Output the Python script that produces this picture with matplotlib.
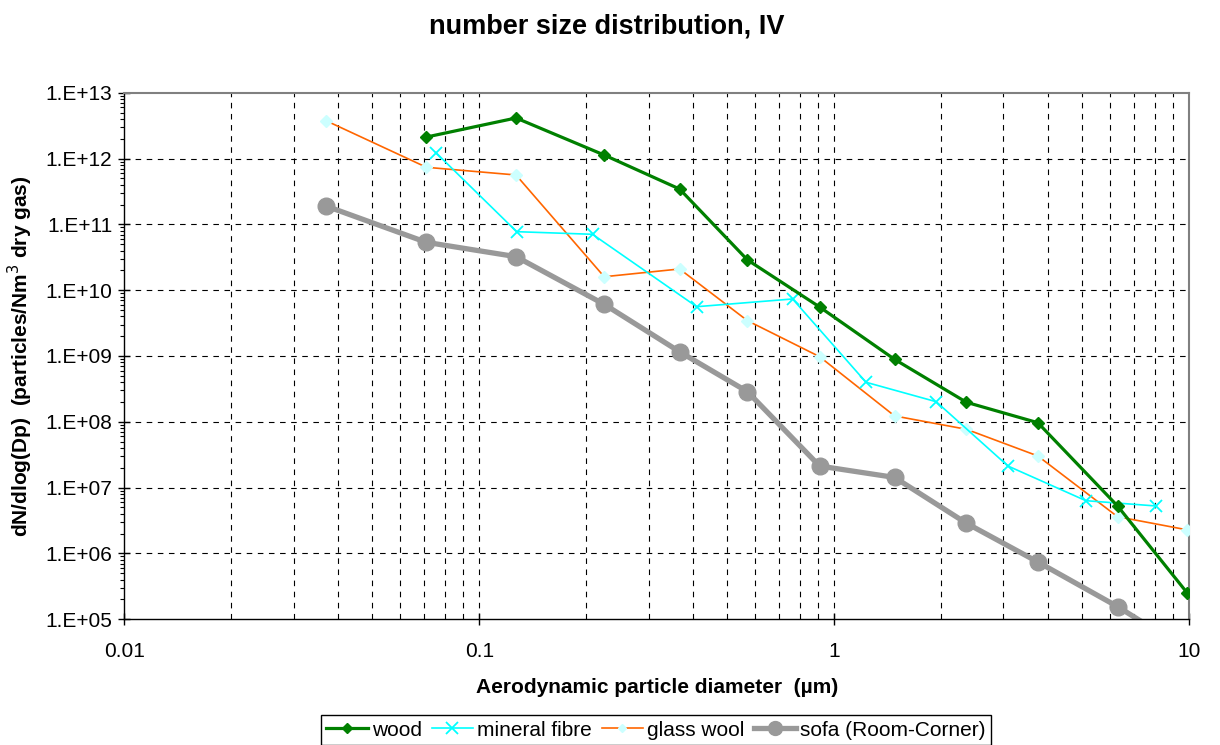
import math
import matplotlib
matplotlib.use("Agg")
import matplotlib.pyplot as plt
from matplotlib.ticker import LogLocator, FixedLocator, NullFormatter, FuncFormatter
from matplotlib.lines import Line2D

plt.rcParams['font.family'] = ['Liberation Sans', 'DejaVu Sans']

# Particle diameters (µm) of the impactor stages
dp = [0.037, 0.071, 0.127, 0.225, 0.367, 0.57, 0.91, 1.48, 2.36, 3.75, 6.29, 9.9]
dp_wood = [0.071, 0.127, 0.225, 0.367, 0.57, 0.91, 1.48, 2.36, 3.75, 6.29, 9.9]
dp_mineral = [0.0755, 0.1275, 0.2086, 0.41, 0.764, 1.23, 1.94, 3.09, 5.12, 8.06]

# dN/dlog(Dp), particles/Nm3 dry gas
wood = [2.12e12, 4.13e12, 1.13e12, 3.44e11, 2.88e10, 5.56e9, 8.9e8, 1.98e8, 9.7e7, 5.27e6, 2.49e5]
mineral_fibre = [1.23e12, 7.74e10, 7.06e10, 5.61e9, 7.35e9, 3.99e8, 2.02e8, 2.13e7, 6.34e6, 5.27e6]
glass_wool = [3.76e12, 7.36e11, 5.62e11, 1.6e10, 2.1e10, 3.44e9, 9.77e8, 1.23e8, 7.7e7, 3.03e7, 3.62e6, 2.28e6]
sofa = [1.9e11, 5.33e10, 3.23e10, 6.1e9, 1.16e9, 2.87e8, 2.13e7, 1.43e7, 2.88e6, 7.43e5, 1.56e5, 3.4e4]

labels = ["wood", "mineral fibre", "glass wool", "sofa (Room-Corner)"]
title = "number size distribution, IV"
xlabel = "Aerodynamic particle diameter  (µm)"
ylabel = "dN/dlog(Dp)  (particles/Nm$^3$ dry gas)"
xtick_labels = {0.01: '0.01', 0.1: '0.1', 1: '1', 10: '10'}

W, H = 1220, 745
fig = plt.figure(figsize=(W / 100, H / 100), dpi=100)
ax = fig.add_axes([124.3 / W, 1 - 619.3 / H, (1189 - 124.3) / W, (619.3 - 92.7) / H])

ax.set_xscale('log')
ax.set_yscale('log')
ax.set_xlim(0.01, 10)
ax.set_ylim(1e5, 1e13)

# Grid: vertical at every major/minor x position, horizontal at decades
grid_kw = dict(color='black', lw=0.8, linestyle=(0, (5, 5)), zorder=1)
xgrid = [dec * m for dec in [0.01, 0.1, 1] for m in range(1, 10)]
for xv in xgrid[1:]:
    ax.axvline(xv, **grid_kw)
for e in range(6, 13):
    ax.axhline(10.0 ** e, **grid_kw)

ax.plot(dp_wood, wood, color='#008000', lw=2.3, marker='D', ms=6,
        mfc='#008000', mec='#008000', zorder=5, label=labels[0])
ax.plot(dp_mineral, mineral_fibre, color='#00FFFF', lw=1.2, marker='x', ms=9,
        mew=1.3, zorder=4, label=labels[1])
ax.plot(dp, glass_wool, color='#FF6600', lw=1.2, marker='D', ms=6,
        mfc='#CCFFFF', mec='#CCFFFF', zorder=3, label=labels[2])
ax.plot(dp, sofa, color='#999999', lw=3.8, marker='o', ms=12,
        mfc='#999999', mec='#999999', zorder=2, label=labels[3])

# Spines
for s in ['top', 'right']:
    ax.spines[s].set_color('#808080')
    ax.spines[s].set_linewidth(1.5)
for s in ['left', 'bottom']:
    ax.spines[s].set_color('black')
    ax.spines[s].set_linewidth(1.0)

# Ticks
ax.xaxis.set_major_locator(FixedLocator([0.01, 0.1, 1, 10]))
ax.xaxis.set_major_formatter(FuncFormatter(lambda v, p: xtick_labels.get(round(v, 2), '')))
ax.xaxis.set_minor_locator(FixedLocator([]))
ax.yaxis.set_major_locator(FixedLocator([10.0 ** e for e in range(5, 14)]))
ax.yaxis.set_major_formatter(FuncFormatter(lambda v, p: '1.E+%02d' % round(math.log10(v))))
ax.yaxis.set_minor_locator(LogLocator(base=10, subs=range(2, 10), numticks=20))
ax.yaxis.set_minor_formatter(NullFormatter())
ax.tick_params(axis='both', which='major', direction='inout', length=9, width=1,
               labelsize=15, colors='black', pad=4)
ax.tick_params(axis='x', which='major', pad=12)
ax.tick_params(axis='y', which='minor', direction='out', length=3, width=0.8)

ax.set_xlabel(xlabel, fontsize=15, fontweight='bold', labelpad=12)
ax.set_ylabel(ylabel, fontsize=15, fontweight='bold', labelpad=8)
fig.text(607 / W, 1 - 27 / H, title, ha='center', va='center', fontsize=19.5, fontweight='bold')

handles = [
    Line2D([], [], color='#008000', lw=2.3, marker='D', ms=5, mfc='#008000', mec='#008000'),
    Line2D([], [], color='#00FFFF', lw=1.2, marker='x', ms=8, mew=1.3),
    Line2D([], [], color='#FF6600', lw=1.2, marker='D', ms=4.5, mfc='#CCFFFF', mec='#CCFFFF'),
    Line2D([], [], color='#999999', lw=3.8, marker='o', ms=10, mfc='#999999', mec='#999999'),
]
leg = fig.legend(handles, labels, loc='center', bbox_to_anchor=(656 / W, 1 - 730 / H),
                 ncol=4, fontsize=15, frameon=True, fancybox=False, framealpha=1,
                 edgecolor='black', handlelength=2.0, handletextpad=0.2,
                 columnspacing=0.45, borderpad=0.25, borderaxespad=0)
leg.get_frame().set_linewidth(1.0)

fig.savefig('out.png', dpi=100)
